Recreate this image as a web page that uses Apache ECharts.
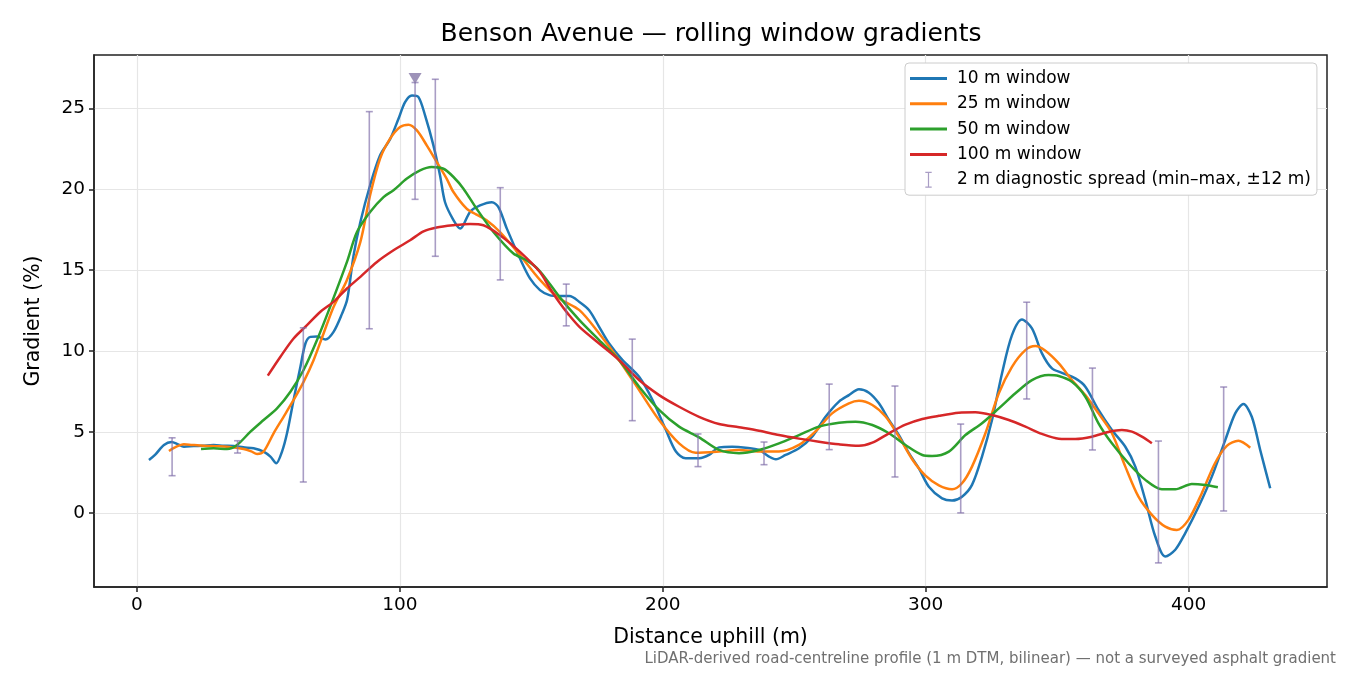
<!DOCTYPE html>
<html>
<head>
<meta charset="utf-8">
<title>Benson Avenue gradients</title>
<script src="https://cdn.jsdelivr.net/npm/echarts@6/dist/echarts.min.js"></script>
<style>
html, body { margin: 0; padding: 0; background: #fff; }
#container { width: 1350px; height: 675px; }
</style>
</head>
<body>
<div id="container"></div>
<script>
var xTicks = [0, 100, 200, 300, 400];
var yTicks = [0, 5, 10, 15, 20, 25];

// [distance m, gradient %]
var win10 = [[4.6,3.27],[7,3.6],[10.3,4.2],[13.2,4.38],[15.5,4.25],[17.9,4.09],[21.6,4.13],[25,4.15],[29.2,4.2],[33,4.15],[36.8,4.13],[40.5,4.05],[44.4,3.99],[48.2,3.79],[50.8,3.48],[53,3.07],[55.2,3.79],[57.1,4.92],[59.6,6.98],[62.2,9.03],[64.1,10.47],[66,10.88],[68.5,10.9],[71.7,10.72],[74.8,11.19],[78,12.3],[80,13.2],[82.4,15.9],[85,17.98],[88.7,20.25],[92.5,22.1],[96.3,23.1],[99.5,24.36],[102,25.39],[104.6,25.8],[107.1,25.7],[109.6,24.57],[112.8,22.7],[115.3,20.86],[117.2,19.2],[120.4,18.1],[123,17.57],[126.7,18.6],[130.5,19.0],[135,19.2],[137.5,18.9],[140.7,17.57],[145.7,15.72],[149.5,14.49],[153.3,13.77],[156.9,13.46],[160.7,13.4],[164.5,13.4],[168.3,13.04],[172,12.53],[175.8,11.5],[179.6,10.47],[184.7,9.44],[191,8.41],[196.1,6.98],[201.2,5.12],[205,3.79],[208.7,3.38],[213.8,3.38],[217.6,3.58],[221.4,4.05],[226.4,4.09],[231.5,4.03],[236.6,3.89],[240.4,3.48],[243,3.31],[246.7,3.58],[251.8,3.99],[256.8,4.71],[261.9,5.94],[267,6.88],[270.8,7.28],[274.6,7.64],[278.4,7.43],[282.2,6.77],[286,5.74],[289.8,4.8],[293.6,3.69],[297.4,2.75],[301.2,1.62],[306.2,0.9],[310,0.76],[313.8,1.0],[317.6,1.73],[321.4,3.48],[325.2,5.74],[329,8.62],[332.8,10.99],[336.6,11.96],[340.4,11.4],[344.2,9.86],[348,8.93],[351.8,8.66],[356.9,8.31],[360.7,7.8],[365.7,6.36],[370.8,5.12],[375.9,4.09],[379.7,2.86],[383.5,0.8],[387.3,-1.46],[391.1,-2.7],[394.9,-2.28],[398.7,-1.25],[403.8,0.39],[408.8,2.24],[413.9,4.5],[417.7,6.15],[420.8,6.73],[424,5.94],[427.2,3.89],[431,1.52]];
var win25 = [[12.2,3.83],[14.5,4.05],[17.9,4.24],[21,4.2],[25.4,4.15],[30,4.12],[34.3,4.09],[40.6,3.95],[43.5,3.8],[45.7,3.64],[48.2,3.79],[52,4.92],[55.8,5.94],[59.6,6.98],[63.4,8.1],[67.2,9.44],[71,11.09],[74.8,12.73],[79.9,14.4],[85,16.75],[88.7,19.63],[92.5,21.9],[96.3,23.13],[100.1,23.85],[103.3,23.99],[106.5,23.64],[110.3,22.7],[114,21.7],[117.8,20.66],[120.4,19.83],[125.4,18.8],[129,18.45],[133,18.09],[138.1,17.36],[145.7,15.93],[153.3,14.4],[160.7,13.25],[168.3,12.53],[175.8,11.09],[183.4,9.44],[191,7.59],[198.6,5.74],[206.2,4.3],[212.5,3.72],[221.4,3.79],[229,3.89],[236.6,3.79],[244.2,3.79],[251.8,4.2],[258,5.02],[264.4,6.15],[270.8,6.77],[274.6,6.93],[279.7,6.67],[284.8,5.94],[289.8,4.71],[294.9,3.3],[299.9,2.3],[305,1.7],[310,1.46],[313.8,1.83],[317.6,2.86],[322.7,4.92],[327.8,7.39],[332.8,9.03],[337.9,10.06],[341.7,10.31],[345.5,10.02],[350.6,9.24],[355.6,8.21],[360.7,7.28],[365.7,6.15],[370.8,4.92],[375.9,2.86],[380.9,1.0],[386,-0.12],[391.1,-0.85],[395.5,-1.05],[399.9,-0.43],[405,1.22],[410,3.07],[414.5,4.14],[418.9,4.46],[423.4,4.03]];
var win50 = [[24.4,3.95],[29.2,3.99],[34.3,3.95],[38.1,4.2],[43.2,5.02],[48.2,5.74],[53.3,6.46],[58.4,7.49],[63.4,8.83],[68.5,10.68],[73.5,12.73],[79.9,15.51],[83.7,17.36],[88.7,18.6],[93.8,19.52],[97.6,19.94],[102.7,20.66],[107.7,21.17],[112.1,21.38],[116.6,21.27],[120.4,20.76],[124.2,20.04],[129.2,18.8],[135.6,17.36],[143.2,16.03],[148.2,15.62],[153.2,14.95],[160.7,13.35],[168.3,11.91],[175.8,10.68],[183.4,9.44],[191,7.8],[198.6,6.36],[206.2,5.33],[213.8,4.67],[221.4,3.89],[229,3.69],[236.6,3.89],[244.2,4.3],[251.8,4.81],[259.4,5.33],[267,5.57],[273.3,5.64],[279.7,5.43],[286,4.92],[292.3,4.2],[298.7,3.58],[302.4,3.52],[308.8,3.79],[315.1,4.81],[321.4,5.54],[327.8,6.46],[334.1,7.39],[340.4,8.21],[346.7,8.52],[350.6,8.46],[355.6,8.1],[360.7,7.18],[365.7,5.54],[370.8,4.3],[377.1,3.07],[383.5,2.04],[389.8,1.46],[394.9,1.46],[401.2,1.79],[406.3,1.73],[411.1,1.59]];
var win100 = [[49.8,8.48],[54.6,9.65],[59.6,10.78],[64.7,11.6],[69.8,12.43],[74.8,13.04],[79.9,13.87],[85,14.59],[91.3,15.51],[97.6,16.23],[103.9,16.85],[109,17.4],[114,17.64],[120.4,17.78],[126.7,17.86],[131.8,17.78],[138.1,17.16],[145.7,16.13],[153.2,14.9],[157,13.9],[160.7,13.0],[164,12.3],[168.3,11.5],[175.8,10.47],[183.4,9.44],[191,8.21],[198.6,7.28],[206.2,6.56],[213.8,5.94],[221.4,5.49],[229,5.29],[236.6,5.08],[244.2,4.81],[251.8,4.59],[259.4,4.4],[267,4.24],[274.6,4.15],[279.7,4.34],[286,4.92],[292.3,5.45],[298.7,5.8],[305,6.0],[312.6,6.19],[318.9,6.22],[325.2,6.05],[331.6,5.74],[337.9,5.33],[344.2,4.88],[350.6,4.59],[356.9,4.57],[363.2,4.71],[369.5,5.0],[374.6,5.12],[378.4,5.02],[382.2,4.71],[386,4.3]];

// 2 m diagnostic spread
var errX    = [13.4, 38.3, 63.3, 88.4, 105.8, 113.5, 138.2, 163.3, 188.4, 213.4, 238.5, 263.3, 288.3, 313.3, 338.4, 363.4, 388.5, 413.3];
var errLow  = [2.3, 3.7, 1.91, 11.38, 19.38, 15.86, 14.4, 11.56, 5.7, 2.86, 2.98, 3.91, 2.22, 0.0, 7.04, 3.89, -3.09, 0.12];
var errHigh = [4.64, 4.46, 11.44, 24.8, 26.6, 26.8, 20.1, 14.14, 10.74, 4.88, 4.38, 7.96, 7.84, 5.49, 13.02, 8.95, 4.44, 7.78];

var peakX = [105.8];
var peakY = [26.85];

var font = "'DejaVu Sans', sans-serif";
var errColor = 'rgba(128,110,170,0.68)';
var errName = '2 m diagnostic spread (min\u2013max, \u00b112 m)';
var lineIcon = 'path://M0,0H37V3H0Z';
var barIcon = 'path://M0,0H8V1.5H4.75V18.5H8V20H0V18.5H3.25V1.5H0Z';

var errData = errX.map(function (x, i) { return [x, errLow[i], errHigh[i]]; });
var peakData = peakX.map(function (x, i) { return [x, peakY[i]]; });

var dom = document.getElementById("container");
var myChart = echarts.init(dom);
var option = null;

function lineSeries(name, data, color) {
    return {
        name: name,
        type: 'line',
        data: data,
        showSymbol: false,
        smooth: 0.3,
        color: color,
        lineStyle: { color: color, width: 2.5 },
        z: 2
    };
}

option = {
    animation: false,
    textStyle: { fontFamily: font },
    title: {
        text: 'Benson Avenue \u2014 rolling window gradients',
        left: 706,
        top: 17,
        textAlign: 'center',
        textStyle: { fontSize: 25, fontWeight: 'normal', color: '#000', fontFamily: font }
    },
    legend: {
        orient: 'vertical',
        left: 905,
        top: 63,
        padding: [7, 6, 7, 5],
        itemWidth: 37,
        itemHeight: 16,
        itemGap: 8.3,
        backgroundColor: '#fff',
        borderColor: '#cccccc',
        borderWidth: 1,
        borderRadius: 4,
        textStyle: { fontSize: 17, color: '#000', fontFamily: font, lineHeight: 16, padding: [0, 0, 0, 5] },
        data: [
            { name: '10 m window', icon: lineIcon },
            { name: '25 m window', icon: lineIcon },
            { name: '50 m window', icon: lineIcon },
            { name: '100 m window', icon: lineIcon },
            { name: errName, icon: barIcon }
        ]
    },
    grid: {
        left: 94, right: 23, top: 55, bottom: 88,
        show: true, borderColor: '#222', borderWidth: 1.5
    },
    xAxis: {
        type: 'value',
        min: -16.3,
        max: 452.6,
        name: 'Distance uphill (m)',
        nameLocation: 'middle',
        nameGap: 40,
        nameTextStyle: { fontSize: 20.5, color: '#000', fontFamily: font },
        axisLine: { show: true, onZero: false, lineStyle: { color: '#222', width: 1.5 } },
        axisTick: { show: true, length: 5, lineStyle: { color: '#222', width: 1.5 }, customValues: xTicks },
        axisLabel: { fontSize: 18.5, color: '#000', margin: 9, fontFamily: font, customValues: xTicks },
        splitLine: { show: true, lineStyle: { color: '#e6e6e6', width: 1.2 } }
    },
    yAxis: {
        type: 'value',
        min: -4.58,
        max: 28.3,
        name: 'Gradient (%)',
        nameLocation: 'middle',
        nameGap: 50,
        nameTextStyle: { fontSize: 20.5, color: '#000', fontFamily: font },
        axisLine: { show: true, onZero: false, lineStyle: { color: '#222', width: 1.5 } },
        axisTick: { show: true, length: 5, lineStyle: { color: '#222', width: 1.5 }, customValues: yTicks },
        axisLabel: { fontSize: 18.5, color: '#000', margin: 9, fontFamily: font, customValues: yTicks },
        splitLine: { show: true, lineStyle: { color: '#e6e6e6', width: 1.2 } }
    },
    graphic: [{
        type: 'text',
        right: 14,
        top: 652,
        style: {
            text: 'LiDAR-derived road-centreline profile (1 m DTM, bilinear) \u2014 not a surveyed asphalt gradient',
            fontSize: 15,
            fill: '#707070',
            fontFamily: font
        }
    }],
    series: [
        lineSeries('10 m window', win10, '#1f77b4'),
        lineSeries('25 m window', win25, '#ff7f0e'),
        lineSeries('50 m window', win50, '#2ca02c'),
        lineSeries('100 m window', win100, '#d62728'),
        {
            name: errName,
            type: 'custom',
            data: errData,
            encode: { x: 0, y: [1, 2] },
            itemStyle: { color: errColor },
            z: 3,
            renderItem: function (params, api) {
                var x = api.value(0);
                var lo = api.coord([x, api.value(1)]);
                var hi = api.coord([x, api.value(2)]);
                var w = 3.5;
                var st = { stroke: errColor, lineWidth: 1.6 };
                return {
                    type: 'group',
                    children: [
                        { type: 'line', shape: { x1: lo[0], y1: lo[1], x2: hi[0], y2: hi[1] }, style: st },
                        { type: 'line', shape: { x1: lo[0] - w, y1: lo[1], x2: lo[0] + w, y2: lo[1] }, style: st },
                        { type: 'line', shape: { x1: hi[0] - w, y1: hi[1], x2: hi[0] + w, y2: hi[1] }, style: st }
                    ]
                };
            }
        },
        {
            name: 'peak',
            type: 'scatter',
            data: peakData,
            symbol: 'triangle',
            symbolRotate: 180,
            symbolSize: [13, 11],
            itemStyle: { color: '#8577a6' },
            z: 4
        }
    ]
};

if (option && typeof option === "object") {
    myChart.setOption(option, true);
}
</script>
</body>
</html>
